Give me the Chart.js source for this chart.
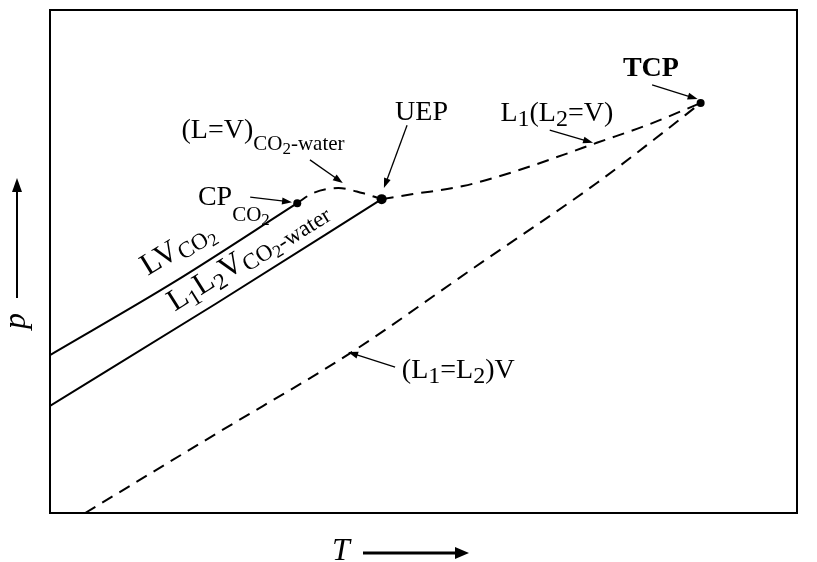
<!DOCTYPE html>
<html>
<head>
<meta charset="utf-8">
<script src="https://cdn.jsdelivr.net/npm/chart.js@4.4.1/dist/chart.umd.min.js"></script>
<style>html,body{margin:0;padding:0;background:#fff}</style>
</head>
<body>
<canvas id="diagram" width="817" height="562"></canvas>
<script>
// phase boundaries, T and p in arbitrary units (0-100 on both axes)
const lvCO2 = [[0, 31.4], [16.7, 46.0], [33.1, 61.6]];
const l1l2v = [[0, 21.3], [22.2, 41.6], [44.4, 62.4]];
const lvCritical = [[33.1, 61.6], [35.2, 63.6], [38.6, 64.6], [41.8, 63.6], [44.4, 62.4]];
const l1Critical = [[44.4, 62.4], [48.6, 63.4], [55.3, 65.0], [62.0, 67.8], [68.7, 71.2], [73.2, 73.6], [79.9, 77.1], [87.1, 81.5]];
const l1l2Critical = [[4.7, 0], [22.4, 15.9], [40.2, 31.8], [56.9, 48.9], [73.2, 65.6], [81.0, 74.4], [87.1, 81.5]];

// CP of CO2, UEP, TCP
const specialPoints = [[33.1, 61.6], [44.4, 62.4], [87.1, 81.5]];
const pointSizes = [4, 5, 4];

// label text: [text, style, dy]  (anchor = left end of baseline, data units)
const labels = [
  { at: [76.7, 86.9], parts: [["TCP", "b", 0]] },
  { at: [46.2, 78.1], parts: [["UEP", "n", 0]] },
  { at: [60.3, 77.9], parts: [["L", "n", 0], ["1", "s2", 5], ["(L", "n", 0], ["2", "s2", 5], ["=V)", "n", 0]] },
  { at: [17.6, 74.6], parts: [["(L=V)", "n", 0], ["CO", "s", 12], ["2", "ss", 16], ["-water", "s", 12]] },
  { at: [19.8, 61.2], parts: [["CP", "n", 0], ["CO", "s", 16], ["2", "ss", 20]] },
  { at: [47.1, 26.8], parts: [["(L", "n", 0], ["1", "s2", 5], ["=L", "n", 0], ["2", "s2", 5], [")V", "n", 0]] },
  { at: [13.1, 47.1], angle: -31.5, parts: [["LV", "r", 0], ["CO", "rs", 5], ["2", "rss", 9]] },
  { at: [16.7, 40.0], angle: -32, parts: [["L", "r", 0], ["1", "rs", 6], ["L", "r", 0], ["2", "rs", 6], ["V", "r", 0],
    ["CO", "rs", 5], ["2", "rss", 9], ["-water", "rs", 5]] }
];

// pointer arrows: [from, to] in data units
const arrows = [
  [[80.6, 85.1], [86.7, 82.3]],
  [[47.8, 77.1], [44.7, 64.6]],
  [[66.9, 76.1], [72.7, 73.6]],
  [[34.8, 70.2], [39.2, 65.6]],
  [[26.8, 62.8], [32.4, 61.8]],
  [[46.2, 29.0], [39.9, 32.0]]
];

const serif = '"Liberation Serif", "Times New Roman", serif';
const fonts = {
  n: "28px " + serif,
  b: "bold 28px " + serif,
  s: "21px " + serif,
  s2: "24px " + serif,
  ss: "17px " + serif,
  r: "31px " + serif,
  rs: "23px " + serif,
  rss: "18px " + serif
};

function toXY(list) {
  return list.map(p => ({ x: p[0], y: p[1] }));
}

function curve(list, dashed) {
  return {
    data: toXY(list),
    showLine: true,
    borderColor: "#000",
    borderWidth: 2,
    borderDash: dashed ? [12, 8] : [],
    pointRadius: 0,
    cubicInterpolationMode: "monotone"
  };
}

function arrowHead(ctx, x1, y1, x2, y2, len, half) {
  const a = Math.atan2(y2 - y1, x2 - x1);
  ctx.beginPath();
  ctx.moveTo(x2, y2);
  ctx.lineTo(x2 - len * Math.cos(a) + half * Math.sin(a), y2 - len * Math.sin(a) - half * Math.cos(a));
  ctx.lineTo(x2 - len * Math.cos(a) - half * Math.sin(a), y2 - len * Math.sin(a) + half * Math.cos(a));
  ctx.closePath();
  ctx.fill();
}

const decorations = {
  id: "decorations",
  afterDraw(chart) {
    const ctx = chart.ctx;
    const area = chart.chartArea;
    const xs = chart.scales.x, ys = chart.scales.y;
    ctx.save();
    ctx.strokeStyle = "#000";
    ctx.fillStyle = "#000";

    // frame
    ctx.lineWidth = 2;
    ctx.strokeRect(area.left, area.top, area.right - area.left, area.bottom - area.top);

    // pointer arrows
    ctx.lineWidth = 1.3;
    arrows.forEach(a => {
      const x1 = xs.getPixelForValue(a[0][0]), y1 = ys.getPixelForValue(a[0][1]);
      const x2 = xs.getPixelForValue(a[1][0]), y2 = ys.getPixelForValue(a[1][1]);
      const ang = Math.atan2(y2 - y1, x2 - x1);
      ctx.beginPath();
      ctx.moveTo(x1, y1);
      ctx.lineTo(x2 - 6 * Math.cos(ang), y2 - 6 * Math.sin(ang));
      ctx.stroke();
      arrowHead(ctx, x1, y1, x2, y2, 10, 3.5);
    });

    // labels
    ctx.textBaseline = "alphabetic";
    labels.forEach(l => {
      ctx.save();
      ctx.translate(xs.getPixelForValue(l.at[0]), ys.getPixelForValue(l.at[1]));
      if (l.angle) ctx.rotate(l.angle * Math.PI / 180);
      let x = 0;
      l.parts.forEach(p => {
        ctx.font = fonts[p[1]];
        ctx.fillText(p[0], x, p[2]);
        x += ctx.measureText(p[0]).width;
      });
      ctx.restore();
    });

    // axis names with arrows
    ctx.font = "italic 32px " + serif;
    ctx.save();
    ctx.translate(area.left - 25, 321);
    ctx.rotate(-Math.PI / 2);
    ctx.textAlign = "center";
    ctx.fillText("p", 0, 0);
    ctx.restore();
    ctx.lineWidth = 2;
    ctx.beginPath();
    ctx.moveTo(area.left - 33, 298);
    ctx.lineTo(area.left - 33, 190);
    ctx.stroke();
    arrowHead(ctx, area.left - 33, 298, area.left - 33, 178, 14, 5);

    ctx.textAlign = "left";
    ctx.fillText("T", 332, 560);
    ctx.lineWidth = 3;
    ctx.beginPath();
    ctx.moveTo(363, 553);
    ctx.lineTo(456, 553);
    ctx.stroke();
    arrowHead(ctx, 363, 553, 469, 553, 14, 6);
    ctx.restore();
  }
};

new Chart(document.getElementById("diagram"), {
  type: "scatter",
  data: {
    datasets: [
      curve(lvCO2, false),
      curve(l1l2v, false),
      curve(lvCritical, true),
      curve(l1Critical, true),
      curve(l1l2Critical, true),
      {
        data: toXY(specialPoints),
        showLine: false,
        pointRadius: pointSizes,
        pointBackgroundColor: "#000",
        pointBorderColor: "#000",
        pointBorderWidth: 0
      }
    ]
  },
  options: {
    responsive: false,
    animation: false,
    layout: { padding: { left: 50, top: 10, right: 20, bottom: 49 } },
    plugins: { legend: { display: false }, tooltip: { enabled: false } },
    scales: {
      x: { type: "linear", min: 0, max: 100, display: false },
      y: { type: "linear", min: 0, max: 100, display: false }
    }
  },
  plugins: [decorations]
});
</script>
</body>
</html>
